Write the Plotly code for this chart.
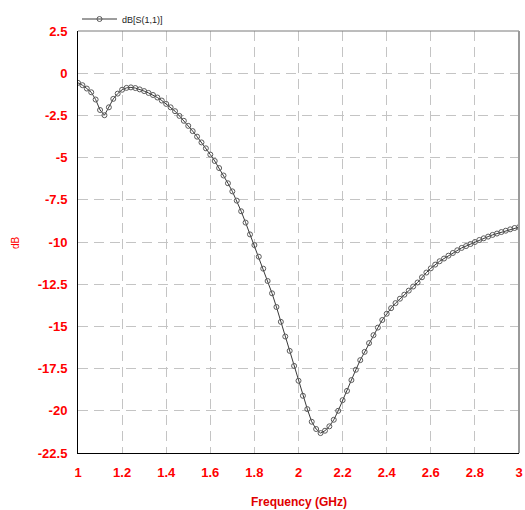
import plotly.graph_objects as go

# Frequency sweep (GHz)
freq_ghz = [
    1.00, 1.02, 1.04, 1.06, 1.08, 1.10, 1.12, 1.14, 1.16, 1.18,
    1.20, 1.22, 1.24, 1.26, 1.28, 1.30, 1.32, 1.34, 1.36, 1.38,
    1.40, 1.42, 1.44, 1.46, 1.48, 1.50, 1.52, 1.54, 1.56, 1.58,
    1.60, 1.62, 1.64, 1.66, 1.68, 1.70, 1.72, 1.74, 1.76, 1.78,
    1.80, 1.82, 1.84, 1.86, 1.88, 1.90, 1.92, 1.94, 1.96, 1.98,
    2.00, 2.02, 2.04, 2.06, 2.08, 2.10, 2.12, 2.14, 2.16, 2.18,
    2.20, 2.22, 2.24, 2.26, 2.28, 2.30, 2.32, 2.34, 2.36, 2.38,
    2.40, 2.42, 2.44, 2.46, 2.48, 2.50, 2.52, 2.54, 2.56, 2.58,
    2.60, 2.62, 2.64, 2.66, 2.68, 2.70, 2.72, 2.74, 2.76, 2.78,
    2.80, 2.82, 2.84, 2.86, 2.88, 2.90, 2.92, 2.94, 2.96, 2.98,
    3.00,
]

# dB[S(1,1)]
s11_db = [
    -0.57, -0.71, -0.91, -1.13, -1.56, -2.18, -2.49, -2.02, -1.52, -1.21,
    -0.98, -0.87, -0.84, -0.88, -0.96, -1.06, -1.17, -1.29, -1.44, -1.62,
    -1.82, -2.02, -2.25, -2.53, -2.82, -3.12, -3.43, -3.76, -4.10, -4.45,
    -4.82, -5.20, -5.62, -6.06, -6.52, -7.00, -7.55, -8.18, -8.85, -9.55,
    -10.18, -10.87, -11.58, -12.31, -13.04, -13.85, -14.73, -15.60, -16.45, -17.34,
    -18.22, -19.11, -19.90, -20.65, -21.08, -21.32, -21.18, -20.92, -20.53, -20.00,
    -19.37, -18.82, -18.18, -17.57, -17.00, -16.51, -15.99, -15.52, -15.07, -14.62,
    -14.25, -13.92, -13.62, -13.36, -13.12, -12.88, -12.64, -12.40, -12.09, -11.81,
    -11.56, -11.34, -11.14, -10.98, -10.81, -10.65, -10.49, -10.35, -10.24, -10.12,
    -10.00, -9.88, -9.78, -9.68, -9.58, -9.50, -9.41, -9.33, -9.25, -9.17,
    -9.12,
]

x_tickvals = [1.0, 1.2, 1.4, 1.6, 1.8, 2.0, 2.2, 2.4, 2.6, 2.8, 3.0]
x_ticktext = ["1", "1.2", "1.4", "1.6", "1.8", "2", "2.2", "2.4", "2.6", "2.8", "3"]
y_tickvals = [2.5, 0, -2.5, -5, -7.5, -10, -12.5, -15, -17.5, -20, -22.5]
y_ticktext = ["2.5", "0", "-2.5", "-5", "-7.5", "-10", "-12.5", "-15", "-17.5", "-20", "-22.5"]

RED = "#ff0000"
GRID = "#c4c4c4"
FONT = "Liberation Sans"
W, H = 525, 510

fig = go.Figure()
fig.add_trace(go.Scatter(
    x=freq_ghz, y=s11_db, mode="lines+markers", name="dB[S(1,1)]",
    line=dict(color="#3a3a3a", width=1),
    marker=dict(symbol="circle-open", size=5, color="#5a5a5a", line=dict(width=1, color="#5a5a5a")),
))

axis_common = dict(
    showgrid=True, gridcolor=GRID, gridwidth=1, griddash="10px,6px",
    zeroline=False, showline=True, linecolor="black", linewidth=1,
    ticks="", automargin=False,
    tickfont=dict(family=FONT, size=13, color=RED, weight="bold"),
)

fig.update_xaxes(range=[1, 3], tickmode="array", tickvals=x_tickvals, ticktext=x_ticktext,
                 ticklabelstandoff=7, **axis_common)
fig.update_yaxes(range=[-22.5, 2.5], tickmode="array", tickvals=y_tickvals, ticktext=y_ticktext,
                 ticklabelstandoff=7, **axis_common)

fig.update_layout(
    width=W, height=H,
    margin=dict(l=78, r=6, t=31, b=57, autoexpand=False),
    paper_bgcolor="white", plot_bgcolor="white",
    showlegend=True,
    legend=dict(xref="container", yref="container", x=77 / W, y=1 - 19 / H,
                xanchor="left", yanchor="middle", orientation="h",
                font=dict(family=FONT, size=9, color="#222222"),
                bgcolor="rgba(0,0,0,0)", borderwidth=0, itemwidth=35),
    shapes=[
        dict(type="line", xref="paper", yref="paper", x0=0, x1=1, y0=1, y1=1,
             line=dict(color="#7a7a7a", width=1)),
        dict(type="line", xref="paper", yref="paper", x0=1, x1=1, y0=0, y1=1,
             line=dict(color="#9a9a9a", width=2)),
    ],
    annotations=[
        dict(text="dB", xref="paper", yref="paper", x=-0.143, y=0.5, showarrow=False,
             textangle=-90, font=dict(family=FONT, size=10, color=RED),
             xanchor="center", yanchor="middle"),
        dict(text="Frequency (GHz)", xref="paper", yref="paper", x=0.5, y=-0.115,
             showarrow=False, font=dict(family=FONT, size=12, color="#e00000", weight="bold"),
             xanchor="center", yanchor="middle"),
    ],
)

fig.write_html("out.html")
